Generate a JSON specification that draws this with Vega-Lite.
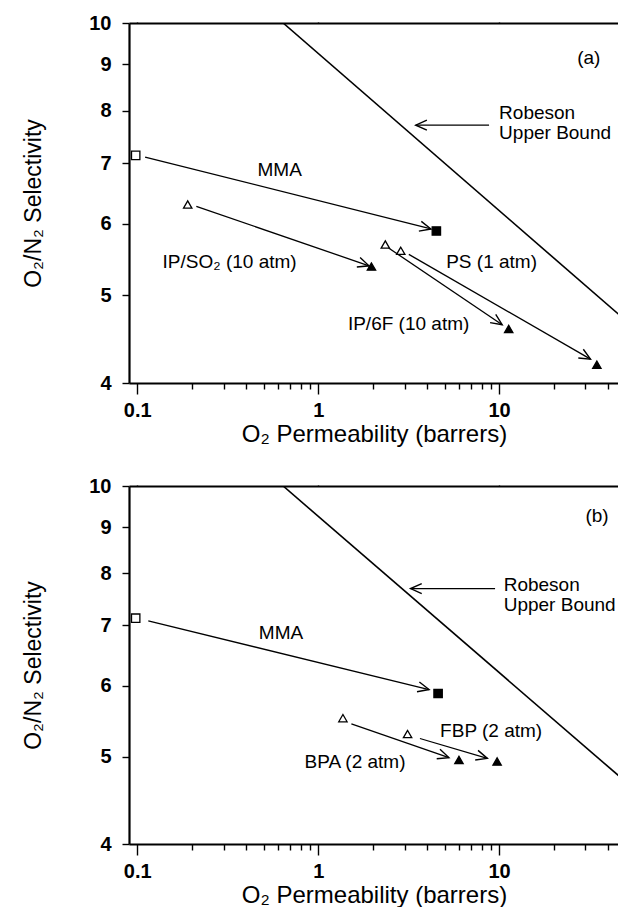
{
  "$schema": "https://vega.github.io/schema/vega-lite/v6.json",
  "background": "white",
  "padding": {"left": 22, "top": 13, "right": 0, "bottom": 0},
  "spacing": 30,
  "config": {
    "view": {"stroke": null},
    "font": "Liberation Sans",
    "axis": {
      "domain": true, "ticks": true,
      "domainColor": "black", "domainWidth": 2.2, "tickColor": "black", "tickWidth": 1.4, "tickOpacity": 1,
      "labelColor": "black", "labelFont": "Liberation Sans", "labelFontSize": 20, "labelFontWeight": "bold",
      "titleFont": "Liberation Sans", "titleFontSize": 23, "titleFontWeight": "normal", "titleColor": "black",
      "grid": false, "labelFlush": false, "labelOverlap": false
    }
  },
  "datasets": {
    "bound": [{"x": 0.64, "y": 10.0}, {"x": 46, "y": 4.76}],
    "pointsA": [
      {"membrane": "MMA", "stage": "before", "x": 0.098, "y": 7.14},
      {"membrane": "MMA", "stage": "after", "x": 4.5, "y": 5.89},
      {"membrane": "IP/SO2", "stage": "before", "x": 0.19, "y": 6.3},
      {"membrane": "IP/SO2", "stage": "after", "x": 1.97, "y": 5.38},
      {"membrane": "IP/6F", "stage": "before", "x": 2.35, "y": 5.69},
      {"membrane": "IP/6F", "stage": "after", "x": 11.3, "y": 4.59},
      {"membrane": "PS", "stage": "before", "x": 2.86, "y": 5.6},
      {"membrane": "PS", "stage": "after", "x": 34.7, "y": 4.19}
    ],
    "arrowsA": [
      {"arrow": "MMA", "x1": 0.1105, "y1": 7.11, "x2": 4.2, "y2": 5.92},
      {"arrow": "IP/SO2", "x1": 0.212, "y1": 6.27, "x2": 1.91, "y2": 5.39},
      {"arrow": "IP/6F", "x1": 2.45, "y1": 5.64, "x2": 10.4, "y2": 4.64},
      {"arrow": "PS", "x1": 3.17, "y1": 5.55, "x2": 32, "y2": 4.25},
      {"arrow": "Robeson", "x1": 8.8, "y1": 7.71, "x2": 3.46, "y2": 7.71}
    ],
    "labelsA": [
      {"text": "MMA", "x": 0.462, "y": 6.87},
      {"text": "IP/SO₂ (10 atm)", "x": 0.138, "y": 5.44},
      {"text": "PS (1 atm)", "x": 5.1, "y": 5.44},
      {"text": "IP/6F (10 atm)", "x": 1.46, "y": 4.65},
      {"text": "Robeson", "x": 10.0, "y": 7.95},
      {"text": "Upper Bound", "x": 10.0, "y": 7.55},
      {"text": "(a)", "x": 27.0, "y": 9.15}
    ],
    "pointsB": [
      {"membrane": "MMA", "stage": "before", "x": 0.098, "y": 7.13},
      {"membrane": "MMA", "stage": "after", "x": 4.6, "y": 5.88},
      {"membrane": "BPA", "stage": "before", "x": 1.37, "y": 5.52},
      {"membrane": "BPA", "stage": "after", "x": 6.0, "y": 4.96},
      {"membrane": "FBP", "stage": "before", "x": 3.12, "y": 5.3},
      {"membrane": "FBP", "stage": "after", "x": 9.75, "y": 4.94}
    ],
    "arrowsB": [
      {"arrow": "MMA", "x1": 0.115, "y1": 7.08, "x2": 4.1, "y2": 5.94},
      {"arrow": "BPA", "x1": 1.526, "y1": 5.44, "x2": 5.28, "y2": 4.99},
      {"arrow": "FBP", "x1": 3.65, "y1": 5.24, "x2": 8.61, "y2": 4.98},
      {"arrow": "Robeson", "x1": 9.5, "y1": 7.69, "x2": 3.24, "y2": 7.69}
    ],
    "labelsB": [
      {"text": "MMA", "x": 0.47, "y": 6.86},
      {"text": "FBP (2 atm)", "x": 4.72, "y": 5.34},
      {"text": "BPA (2 atm)", "x": 0.84, "y": 4.93},
      {"text": "Robeson", "x": 10.6, "y": 7.77},
      {"text": "Upper Bound", "x": 10.6, "y": 7.37},
      {"text": "(b)", "x": 30.0, "y": 9.26}
    ]
  },
  "vconcat": [
    {
      "width": 490,
      "height": 360,
      "resolve": {"axis": {"x": "independent", "y": "independent"}},
      "layer": [
        {
          "data": {"name": "bound"},
          "mark": {"type": "line", "color": "black", "strokeWidth": 1.6, "clip": true},
          "encoding": {
            "x": {"field": "x", "type": "quantitative",
              "scale": {"type": "log", "domain": [0.09, 46], "nice": false},
              "axis": {"orient": "bottom", "title": "O₂ Permeability (barrers)", "titleFontSize": 24,
                "values": [0.1, 1, 10],
                "labelExpr": "datum.value == 0.1 ? '0.1' : datum.value == 1 ? '1' : '10'",
                "tickSize": 11, "labelPadding": 6, "titleY": 51, "titleBaseline": "middle"}},
            "y": {"field": "y", "type": "quantitative",
              "scale": {"type": "log", "domain": [4, 10], "nice": false},
              "axis": {"orient": "left", "title": "O₂/N₂ Selectivity", "values": [4,5,6,7,8,9,10], "format": "d",
                "tickSize": 7, "labelPadding": 11,
                "titleX": -96, "titleY": 180, "titleAngle": -90, "titleBaseline": "middle", "titleAlign": "center"}}
          }
        },
        {
          "data": {"name": "arrowsA"},
          "mark": {"type": "rule", "color": "black", "strokeWidth": 1.3},
          "encoding": {
            "x": {"field": "x1", "type": "quantitative",
              "axis": {"orient": "bottom", "title": null, "labels": false, "domain": false, "tickSize": 6,
                "values": [0.2,0.3,0.4,0.5,0.6,0.7,0.8,0.9,2,3,4,5,6,7,8,9,20,30,40]}},
            "y": {"field": "y1", "type": "quantitative", "axis": null},
            "x2": {"field": "x2"},
            "y2": {"field": "y2"}
          }
        },
        {
          "data": {"name": "arrowsA"},
          "mark": {"type": "point", "shape": "M -1 -0.45 L 0 0 L -1 0.45", "filled": false, "stroke": "black", "strokeWidth": 1.4, "size": 500, "opacity": 1},
          "encoding": {
            "x": {"field": "x2", "type": "quantitative",
              "axis": {"orient": "top", "title": null, "labels": false, "domain": true, "tickSize": 1, "values": [0.1, 1, 10]}},
            "y": {"field": "y2", "type": "quantitative", "axis": null},
            "angle": {"condition": [
              {"test": "datum.arrow == 'MMA'", "value": 14.1},
              {"test": "datum.arrow == 'IP/SO2'", "value": 19.0},
              {"test": "datum.arrow == 'IP/6F'", "value": 34.0},
              {"test": "datum.arrow == 'PS'", "value": 30.0}
            ], "value": 180}
          }
        },
        {
          "data": {"name": "pointsA"},
          "mark": {"type": "point", "filled": true, "stroke": "black", "strokeWidth": 1.3, "size": 70, "opacity": 1},
          "encoding": {
            "x": {"field": "x", "type": "quantitative", "axis": null},
            "y": {"field": "y", "type": "quantitative", "axis": null},
            "shape": {"field": "membrane", "type": "nominal", "legend": null,
              "scale": {"domain": ["MMA", "IP/SO2", "IP/6F", "PS", "BPA", "FBP"], "range": ["square", "triangle-up", "triangle-up", "triangle-up", "triangle-up", "triangle-up"]}},
            "fill": {"field": "stage", "type": "nominal", "legend": null,
              "scale": {"domain": ["before", "after"], "range": ["white", "black"]}}
          }
        },
        {
          "data": {"name": "labelsA"},
          "mark": {"type": "text", "align": "left", "baseline": "middle", "fontSize": 19, "font": "Liberation Sans", "color": "black", "clip": true},
          "encoding": {
            "x": {"field": "x", "type": "quantitative", "axis": null},
            "y": {"field": "y", "type": "quantitative", "axis": null},
            "text": {"field": "text"}
          }
        }
      ]
    },
    {
      "width": 490,
      "height": 358,
      "resolve": {"axis": {"x": "independent", "y": "independent"}},
      "layer": [
        {
          "data": {"name": "bound"},
          "mark": {"type": "line", "color": "black", "strokeWidth": 1.6, "clip": true},
          "encoding": {
            "x": {"field": "x", "type": "quantitative",
              "scale": {"type": "log", "domain": [0.09, 46], "nice": false},
              "axis": {"orient": "bottom", "title": "O₂ Permeability (barrers)", "titleFontSize": 24,
                "values": [0.1, 1, 10],
                "labelExpr": "datum.value == 0.1 ? '0.1' : datum.value == 1 ? '1' : '10'",
                "tickSize": 11, "labelPadding": 6, "titleY": 51, "titleBaseline": "middle"}},
            "y": {"field": "y", "type": "quantitative",
              "scale": {"type": "log", "domain": [4, 10], "nice": false},
              "axis": {"orient": "left", "title": "O₂/N₂ Selectivity", "values": [4,5,6,7,8,9,10], "format": "d",
                "tickSize": 7, "labelPadding": 11,
                "titleX": -96, "titleY": 179, "titleAngle": -90, "titleBaseline": "middle", "titleAlign": "center"}}
          }
        },
        {
          "data": {"name": "arrowsB"},
          "mark": {"type": "rule", "color": "black", "strokeWidth": 1.3},
          "encoding": {
            "x": {"field": "x1", "type": "quantitative",
              "axis": {"orient": "bottom", "title": null, "labels": false, "domain": false, "tickSize": 6,
                "values": [0.2,0.3,0.4,0.5,0.6,0.7,0.8,0.9,2,3,4,5,6,7,8,9,20,30,40]}},
            "y": {"field": "y1", "type": "quantitative", "axis": null},
            "x2": {"field": "x2"},
            "y2": {"field": "y2"}
          }
        },
        {
          "data": {"name": "arrowsB"},
          "mark": {"type": "point", "shape": "M -1 -0.45 L 0 0 L -1 0.45", "filled": false, "stroke": "black", "strokeWidth": 1.4, "size": 500, "opacity": 1},
          "encoding": {
            "x": {"field": "x2", "type": "quantitative",
              "axis": {"orient": "top", "title": null, "labels": false, "domain": true, "tickSize": 1, "values": [0.1, 1, 10]}},
            "y": {"field": "y2", "type": "quantitative", "axis": null},
            "angle": {"condition": [
              {"test": "datum.arrow == 'MMA'", "value": 13.7},
              {"test": "datum.arrow == 'BPA'", "value": 19.1},
              {"test": "datum.arrow == 'FBP'", "value": 16.4}
            ], "value": 180}
          }
        },
        {
          "data": {"name": "pointsB"},
          "mark": {"type": "point", "filled": true, "stroke": "black", "strokeWidth": 1.3, "size": 70, "opacity": 1},
          "encoding": {
            "x": {"field": "x", "type": "quantitative", "axis": null},
            "y": {"field": "y", "type": "quantitative", "axis": null},
            "shape": {"field": "membrane", "type": "nominal", "legend": null,
              "scale": {"domain": ["MMA", "IP/SO2", "IP/6F", "PS", "BPA", "FBP"], "range": ["square", "triangle-up", "triangle-up", "triangle-up", "triangle-up", "triangle-up"]}},
            "fill": {"field": "stage", "type": "nominal", "legend": null,
              "scale": {"domain": ["before", "after"], "range": ["white", "black"]}}
          }
        },
        {
          "data": {"name": "labelsB"},
          "mark": {"type": "text", "align": "left", "baseline": "middle", "fontSize": 19, "font": "Liberation Sans", "color": "black", "clip": true},
          "encoding": {
            "x": {"field": "x", "type": "quantitative", "axis": null},
            "y": {"field": "y", "type": "quantitative", "axis": null},
            "text": {"field": "text"}
          }
        }
      ]
    }
  ]
}
